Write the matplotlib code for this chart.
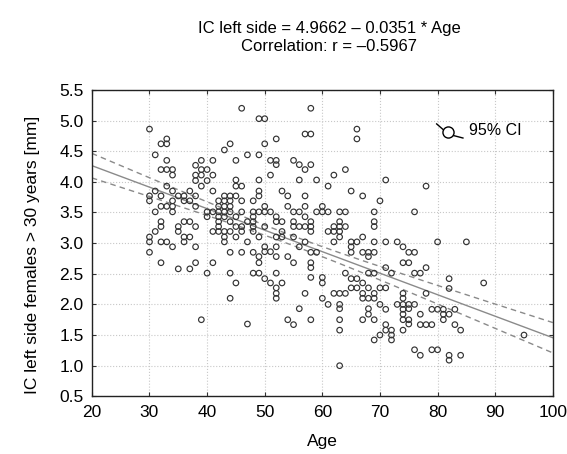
import numpy as np
import matplotlib
matplotlib.use("Agg")
import matplotlib.pyplot as plt

plt.rcParams['font.family'] = ['Liberation Sans', 'DejaVu Sans']

# Ages (columns) and IC values
col_ages = [30, 31, 32, 33, 34, 35, 36, 37, 38, 39,
            40, 41, 42, 43, 44, 45, 46, 47, 48, 49,
            50, 51, 52, 53, 54, 55, 56, 57, 58, 59,
            60, 61, 62, 63, 64, 65, 66, 67, 68, 69,
            70, 71, 72, 73, 74, 75, 76, 77, 78, 79,
            80, 81, 82, 83, 84, 85, 88, 95]
col_values = [
    [4.86, 3.77, 3.69, 3.10, 3.02, 2.85],
    [4.44, 3.85, 3.51, 3.19],
    [4.62, 4.20, 3.77, 3.60, 3.35, 3.27, 3.02, 2.68],
    [4.70, 4.62, 4.35, 4.20, 3.93, 3.60, 3.02],
    [4.20, 4.11, 3.85, 3.69, 3.60, 3.51, 2.94],
    [3.77, 3.27, 3.19, 2.58],
    [3.77, 3.69, 3.35, 3.10, 3.02],
    [3.85, 3.69, 3.35, 3.10, 2.58],
    [4.27, 4.11, 4.02, 3.77, 3.60, 3.27, 2.94, 2.68],
    [4.35, 4.20, 4.11, 3.93, 1.75],
    [4.20, 4.02, 3.51, 3.43, 2.51],
    [4.35, 4.11, 3.85, 3.51, 3.19, 2.68],
    [3.69, 3.60, 3.51, 3.43, 3.35, 3.27, 3.19],
    [4.52, 3.77, 3.69, 3.60, 3.51, 3.43, 3.19, 3.10, 3.02],
    [4.62, 3.77, 3.69, 3.60, 3.51, 3.35, 3.19, 2.85, 2.51, 2.10],
    [4.35, 4.03, 3.93, 3.77, 3.43, 3.27, 3.10, 2.35],
    [5.20, 3.93, 3.69, 3.51, 3.27, 3.19, 2.85],
    [4.44, 3.35, 3.02, 1.68],
    [3.69, 3.51, 3.43, 3.35, 3.27, 3.19, 2.85, 2.51],
    [5.03, 4.44, 4.03, 3.85, 3.77, 3.51, 3.10, 2.78, 2.68, 2.51],
    [5.03, 4.62, 3.60, 3.51, 3.27, 2.94, 2.86, 2.42],
    [4.35, 4.11, 3.51, 2.86, 2.35],
    [4.70, 4.35, 4.28, 3.43, 3.35, 3.10, 2.94, 2.78, 2.51, 2.27, 2.18, 2.10],
    [3.85, 3.35, 3.19, 3.10, 2.35],
    [3.77, 3.60, 2.78, 1.75],
    [4.35, 3.51, 3.35, 3.27, 3.10, 2.68, 1.67],
    [4.28, 4.03, 3.51, 3.27, 2.94, 1.93],
    [4.78, 4.20, 3.77, 3.60, 3.43, 3.27, 3.02, 2.18],
    [5.20, 4.78, 4.28, 3.35, 3.27, 3.19, 2.85, 2.68, 2.60, 2.44, 1.75],
    [4.03, 3.51, 2.85],
    [3.60, 3.51, 2.44, 2.35, 2.10],
    [3.93, 3.51, 3.19, 2.00],
    [4.11, 3.27, 3.19, 3.02, 2.18],
    [3.51, 3.35, 3.27, 3.19, 3.10, 2.18, 2.00, 1.93, 1.75, 1.58, 1.00],
    [4.20, 3.51, 3.27, 2.51, 2.18],
    [3.85, 3.02, 2.94, 2.85, 2.42, 2.27],
    [4.86, 4.70, 3.02, 2.42, 2.27],
    [3.77, 3.10, 2.85, 2.35, 2.18, 2.10, 1.75],
    [2.85, 2.78, 2.51, 2.27, 2.10, 1.93, 1.84],
    [3.51, 3.35, 3.27, 3.02, 2.85, 2.51, 2.18, 2.10, 1.75, 1.42],
    [3.69, 2.27, 2.00, 1.50],
    [4.03, 3.02, 2.60, 2.27, 1.92, 1.67, 1.58],
    [2.51, 1.58, 1.50, 1.42],
    [3.02, 2.00],
    [2.94, 2.68, 2.18, 2.10, 2.00, 1.92, 1.84, 1.75, 1.58],
    [2.85, 2.68, 2.00, 1.93, 1.75, 1.68],
    [3.51, 2.85, 2.51, 2.00, 1.26],
    [2.51, 1.84, 1.67, 1.17],
    [3.93, 2.60, 2.18, 1.67],
    [1.92, 1.67, 1.26],
    [3.02, 1.92, 1.26],
    [1.92, 1.84, 1.75],
    [2.42, 2.26, 1.84, 1.17, 1.09],
    [1.92, 1.67],
    [1.58, 1.17],
    [3.02],
    [2.35],
    [1.50],
]

# regression reported in the title
intercept = 4.9662
slope = -0.0351
r_value = -0.5967

age = np.concatenate([[a] * len(v) for a, v in zip(col_ages, col_values)])
ic = np.concatenate(col_values)

fig = plt.figure(figsize=(5.67, 4.54), dpi=100)
ax = fig.add_axes([0.162, 0.127, 0.813, 0.675])

ax.scatter(age, ic, s=16, facecolors='none', edgecolors='#333333', linewidths=0.85, zorder=3)

# fit line + 95% confidence band
xs = np.linspace(20, 100, 200)
fit = intercept + slope * xs
n = len(age)
resid = ic - (intercept + slope * age)
s = np.sqrt(np.sum(resid ** 2) / (n - 2))
sxx = np.sum((age - age.mean()) ** 2)
half = 1.97 * s * np.sqrt(1.0 / n + (xs - age.mean()) ** 2 / sxx)
ax.plot(xs, fit, color='#8a8a8a', lw=1.0, zorder=2)
ax.plot(xs, fit + half, color='#8a8a8a', lw=1.0, ls=(0, (4, 3)), zorder=2)
ax.plot(xs, fit - half, color='#8a8a8a', lw=1.0, ls=(0, (4, 3)), zorder=2)

ax.set_xlim(20, 100)
ax.set_ylim(0.5, 5.5)
ax.set_xticks(np.arange(20, 101, 10))
ax.set_yticks(np.arange(0.5, 5.51, 0.5))
ax.set_yticklabels([f"{v:.1f}" for v in np.arange(0.5, 5.51, 0.5)])
ax.grid(True, color='#c8c8c8', ls=':', lw=0.8)
ax.set_axisbelow(True)
ax.tick_params(labelsize=12.5, direction='in', top=True, right=True, length=3,
               color='#333333', pad=6)
for sp in ax.spines.values():
    sp.set_color('#222222')
    sp.set_linewidth(1.0)

ax.set_xlabel("Age", fontsize=12.5, labelpad=10)
ax.set_ylabel("IC left side females > 30 years [mm]", fontsize=12.5)
ax.yaxis.set_label_coords(-0.113, 0.46)
ax.set_title(f"IC left side = {intercept:.4f} \u2013 {abs(slope):.4f} * Age\n"
             f"Correlation: r = \u2013{abs(r_value):.4f}",
             fontsize=12, pad=28, linespacing=1.25, x=0.515)

# legend symbol for the confidence interval
ax.plot([0.748, 0.764], [0.889, 0.868], color='black', lw=1.0, transform=ax.transAxes)
ax.plot([0.782, 0.805], [0.852, 0.843], color='black', lw=1.0, transform=ax.transAxes)
ax.plot([0.772], [0.861], marker='o', ms=8, mfc='white', mec='black', mew=1.0,
        transform=ax.transAxes, zorder=5)
ax.text(0.818, 0.866, "95% CI", fontsize=11.5, transform=ax.transAxes, va='center', ha='left')

fig.savefig("out.png", dpi=100)
